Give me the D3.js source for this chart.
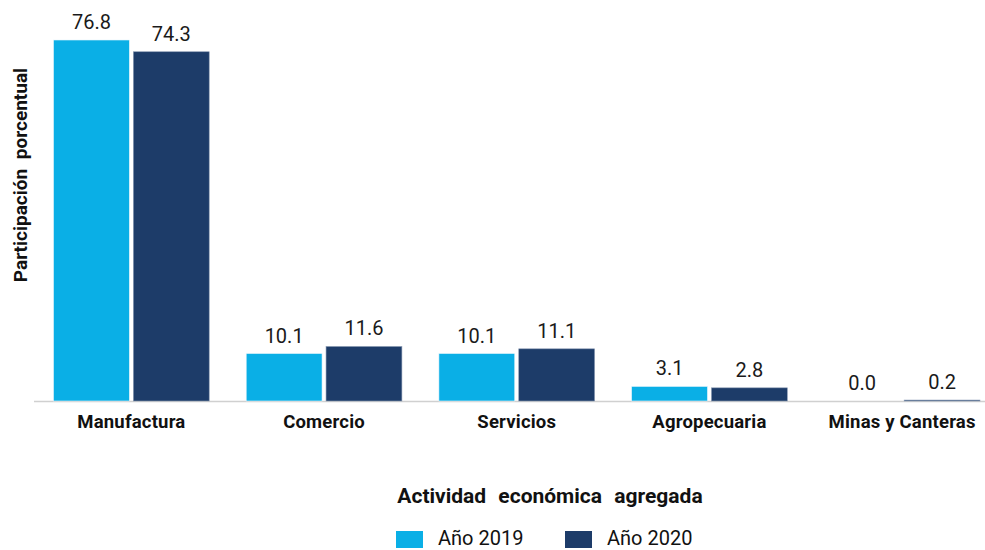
<!DOCTYPE html>
<html><head><meta charset="utf-8">
<script src="https://cdn.jsdelivr.net/npm/d3@7"></script>
<style>body{margin:0;background:#fff}svg{display:block;font-family:Roboto,"Noto Sans",sans-serif}</style>
</head><body><svg id="c" width="985" height="550"></svg>
<script>
const categories = ["Manufactura","Comercio","Servicios","Agropecuaria","Minas y Canteras"];
const seriesNames = ["Año 2019","Año 2020"];
const values2019 = [76.8,10.1,10.1,3.1,0.0];
const values2020 = [74.3,11.6,11.1,2.8,0.2];
const colors = ["#0AAFE6","#1D3C69"];
const series = [values2019, values2020];

const svg = d3.select("#c");
const baseY = 401;
const x = d3.scaleBand().domain(categories).range([35, 35 + 5*192.7]).paddingInner(0).paddingOuter(0);
const x1 = d3.scaleBand().domain(seriesNames).range([18.5, x.bandwidth()-18.5]).paddingInner(0.05);
const y = d3.scaleLinear().domain([0, 76.8]).range([baseY, 40]);

svg.append("line").attr("x1",34).attr("x2",985).attr("y1",baseY+0.5).attr("y2",baseY+0.5)
  .attr("stroke","#d0d0d0").attr("stroke-width",1.5);

const g = svg.append("g");
categories.forEach((c,i)=>{
  seriesNames.forEach((s,j)=>{
    const v = series[j][i];
    const bx = x(c)+x1(s);
    g.append("rect").attr("x",bx).attr("y",y(v)).attr("width",x1.bandwidth())
      .attr("height",baseY - y(v)).attr("fill",colors[j])
      .attr("stroke", j===0 ? "#e8f6fc" : "#8a9ab3").attr("stroke-width",0.6);
    g.append("text").attr("x",bx + x1.bandwidth()/2).attr("y",y(v)-11)
      .attr("text-anchor","middle").attr("font-size",20).attr("fill","#1a1a1a").text(v.toFixed(1));
  });
  g.append("text").attr("x",x(c)+x.bandwidth()/2).attr("y",428).attr("text-anchor","middle")
    .attr("font-size",18.5).attr("font-weight","bold").attr("fill","#111")
    .attr("letter-spacing","0.2px").text(c);
});

svg.append("text").attr("x",550).attr("y",503).attr("text-anchor","middle")
  .attr("font-size",21).attr("font-weight","bold").attr("fill","#111")
  .attr("word-spacing","7px").text("Actividad económica agregada");

svg.append("text").attr("transform","translate(27,175) rotate(-90)").attr("text-anchor","middle")
  .attr("font-size",19).attr("font-weight","bold").attr("fill","#111")
  .attr("word-spacing","5px").text("Participación porcentual");

const legX = [396, 565];
seriesNames.forEach((s,j)=>{
  svg.append("rect").attr("x",legX[j]).attr("y",531).attr("width",27).attr("height",17).attr("fill",colors[j]);
  svg.append("text").attr("x",legX[j]+42).attr("y",545).attr("font-size",20).attr("fill","#111").text(s);
});
</script></body></html>
